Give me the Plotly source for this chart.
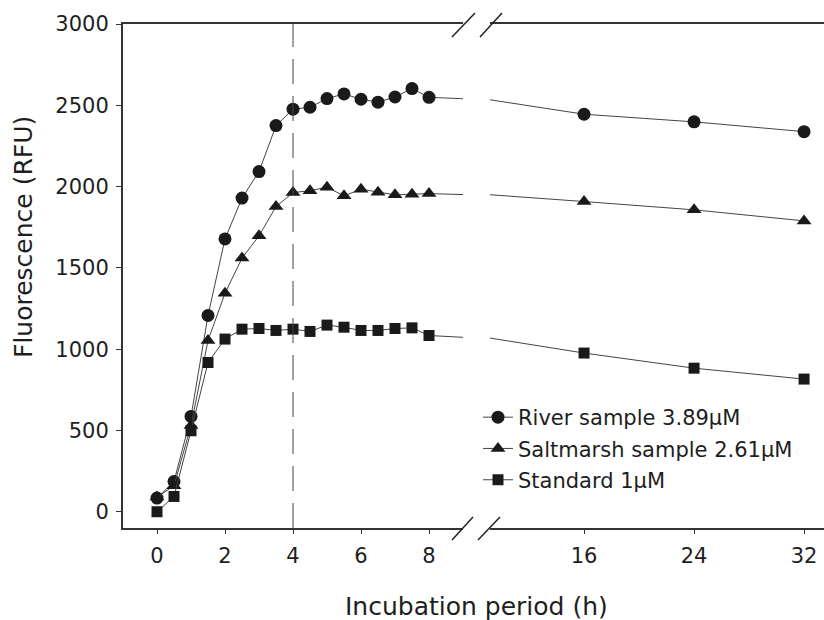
import plotly.graph_objects as go

# ---------------- data ----------------
hours_early = [0, 0.5, 1, 1.5, 2, 2.5, 3, 3.5, 4, 4.5, 5, 5.5, 6, 6.5, 7, 7.5, 8]
hours_late = [16, 24, 32]
hours = hours_early + hours_late

river = [84, 186, 586, 1207, 1678, 1929, 2092, 2375, 2476, 2488, 2541, 2570, 2537, 2519, 2551, 2603, 2549,
         2445, 2398, 2338]
saltmarsh = [90, 160, 530, 1053, 1344, 1560, 1697, 1877, 1963, 1975, 1996, 1943, 1984, 1965, 1949, 1953, 1957,
             1908, 1857, 1789]
standard = [0, 94, 498, 918, 1062, 1123, 1127, 1115, 1123, 1109, 1148, 1135, 1115, 1115, 1127, 1131, 1084,
            976, 883, 816]

series_names = ["River sample 3.89µM", "Saltmarsh sample 2.61µM", "Standard 1µM"]
series_values = [river, saltmarsh, standard]
series_symbols = ["circle", "triangle-up", "square"]
series_sizes = [13, 13, 11]

left_ticks = [0, 2, 4, 6, 8]
right_ticks = [16, 24, 32]
y_ticks = [0, 500, 1000, 1500, 2000, 2500, 3000]
marker_hour = 4

# ---------------- figure ----------------
FONT = "DejaVu Sans"
TXT = "#1e1e1e"
LINE = "#444444"
MARK = "#1a1a1a"

W, H = 824, 620
ML, MR, MT, MB = 123, 0, 24, 92
PW, PH = W - ML - MR, H - MT - MB


def px_x(px):
    return (px - ML) / PW


def px_y(py):
    return (H - MB - py) / PH


fig = go.Figure()
for name, vals, sym, sz in zip(series_names, series_values, series_symbols, series_sizes):
    for ax, show in (("x", True), ("x2", False)):
        fig.add_trace(go.Scatter(
            x=hours, y=vals, name=name, mode="lines+markers",
            xaxis=ax, yaxis="y", showlegend=show, legendgroup=name,
            line=dict(color=LINE, width=1),
            marker=dict(symbol=sym, size=sz, color=MARK, line=dict(width=0)),
            cliponaxis=True,
        ))

axis_common = dict(showline=True, linecolor="#333333", linewidth=1.5, mirror=True,
                   ticks="outside", ticklen=4, tickcolor="#333333",
                   showgrid=False, zeroline=False,
                   tickfont=dict(family=FONT, size=21, color=TXT),
                   ticklabelstandoff=4)

fig.update_layout(
    width=W, height=H,
    margin=dict(l=ML, r=MR, t=MT, b=MB),
    paper_bgcolor="white", plot_bgcolor="white",
    font=dict(family=FONT, color=TXT),
    xaxis=dict(domain=[0, px_x(463)], range=[-1, 9], tickvals=left_ticks, anchor="y", **axis_common),
    xaxis2=dict(domain=[px_x(490), 1], range=[9.16, 33.45], tickvals=right_ticks, anchor="y", **axis_common),
    yaxis=dict(range=[-100, 3000], tickvals=y_ticks, anchor="x",
               showline=True, linecolor="#333333", linewidth=2,
               ticks="outside", ticklen=5, tickcolor="#333333",
               showgrid=False, zeroline=False,
               tickfont=dict(family=FONT, size=21, color=TXT), ticklabelstandoff=3),
    legend=dict(x=px_x(478), y=px_y(397), xanchor="left", yanchor="top",
                bgcolor="rgba(0,0,0,0)", font=dict(family=FONT, size=21, color=TXT),
                tracegroupgap=1),
    showlegend=True,
)

# vertical dashed line at 4 h
fig.add_shape(type="line", xref="x", yref="paper", x0=marker_hour, x1=marker_hour, y0=0, y1=1,
              line=dict(color="#444444", width=1, dash="25px,12px"))

# axis break marks
for (xa, ya, xb, yb) in [(452, 37, 475, 13), (480, 37, 502, 13), (452, 540, 473, 517), (478, 540, 500, 517)]:
    fig.add_shape(type="line", xref="paper", yref="paper",
                  x0=px_x(xa), y0=px_y(ya), x1=px_x(xb), y1=px_y(yb),
                  line=dict(color="#222222", width=1.5))

# axis titles
fig.add_annotation(text="Incubation period (h)", xref="paper", yref="paper",
                   x=px_x(476), y=px_y(606), xanchor="center", yanchor="middle",
                   showarrow=False, font=dict(family=FONT, size=25, color=TXT))
fig.add_annotation(text="Fluorescence (RFU)", xref="paper", yref="paper",
                   x=px_x(23), y=px_y(237), xanchor="center", yanchor="middle", textangle=-90,
                   showarrow=False, font=dict(family=FONT, size=25, color=TXT))

fig.write_html("out.html")
